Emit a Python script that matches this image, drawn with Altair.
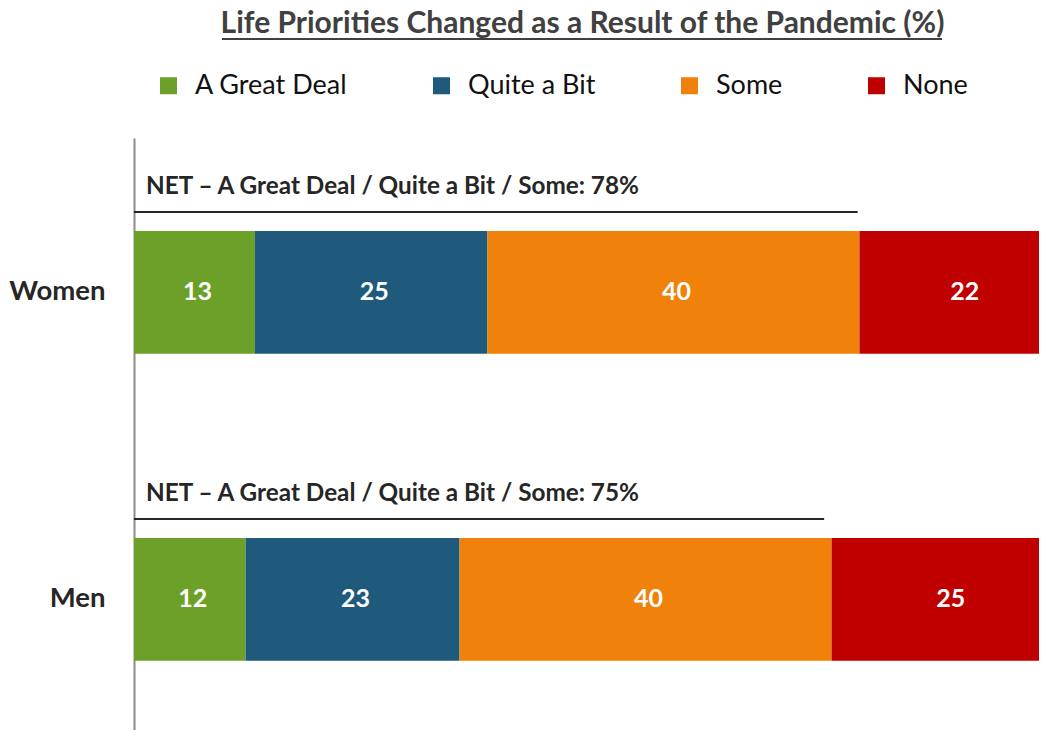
import altair as alt
import pandas as pd

groups = ["Women", "Men"]
categories = ["A Great Deal", "Quite a Bit", "Some", "None"]
women = [13, 25, 40, 22]
men = [12, 23, 40, 25]
net = [78, 75]
net_line_end = [77.8, 74.2]
colors = ["#6CA028", "#1F597B", "#F0810A", "#C00000"]
title_text = "Life Priorities Changed as a Result of the Pandemic (%)"

rows = []
for g, vals in zip(groups, [women, men]):
    cum = 0
    for i, (c, v) in enumerate(zip(categories, vals)):
        rows.append(dict(group=g, category=c, value=v, order=i,
                         start=cum, end=cum + v, mid=cum + v / 2))
        cum += v
df = pd.DataFrame(rows)

net_df = pd.DataFrame({
    "group": groups,
    "zero": [0, 0],
    "line_end": net_line_end,
    "label": [f"NET – A Great Deal / Quite a Bit / Some: {n}%" for n in net],
})

FONT = "Lato"

xscale = alt.Scale(domain=[0, 97.3], nice=False, zero=True)
yenc = dict(
    field="group", type="nominal", sort=groups,
    scale=alt.Scale(paddingInner=0.6, paddingOuter=0.264, align=0.573),
    axis=alt.Axis(title=None, ticks=False, grid=False,
                  domainColor="#8C8C8C", domainWidth=2,
                  labelFont=FONT, labelFontSize=27.5, labelFontWeight="bold",
                  labelColor="#262626", labelPadding=29),
)

base = alt.Chart(df)

bars = base.mark_bar(clip=True).encode(
    x=alt.X("start:Q", scale=xscale, axis=None),
    x2="end:Q",
    y=alt.Y(**yenc),
    color=alt.Color(
        "category:N",
        scale=alt.Scale(domain=categories, range=colors),
        legend=alt.Legend(
            title=None, orient="none", legendX=21, legendY=-66,
            direction="horizontal", symbolType="square", symbolSize=290,
            symbolStrokeWidth=0, labelFont=FONT, labelFontSize=27,
            labelColor="#111111", columnPadding=80, labelOffset=13,
        ),
    ),
    order=alt.Order("order:Q"),
)

bar_labels = base.mark_text(
    font=FONT, fontSize=25, fontWeight="bold", color="white",
    baseline="middle", align="center", dx=3,
).encode(
    x=alt.X("mid:Q", scale=xscale, axis=None),
    y=alt.Y(**yenc),
    text="value:Q",
)

net_rule = alt.Chart(net_df).mark_rule(
    strokeWidth=2, color="#262626", yOffset=-19
).encode(
    x=alt.X("zero:Q", scale=xscale, axis=None),
    x2="line_end:Q",
    y=alt.Y(bandPosition=0, **yenc),
)

net_text = alt.Chart(net_df).mark_text(
    font=FONT, fontSize=24.3, fontWeight="bold", color="#262626",
    align="left", baseline="alphabetic", dx=12, dy=-37,
).encode(
    x=alt.X("zero:Q", scale=xscale, axis=None),
    y=alt.Y(bandPosition=0, **yenc),
    text="label:N",
)

underline = alt.Chart(pd.DataFrame({"a": [0]})).mark_rule(
    strokeWidth=2, color="#404040"
).encode(x=alt.value(88), x2=alt.value(808), y=alt.value(-99))

chart = alt.layer(bars, bar_labels, net_rule, net_text, underline).properties(
    width=905,
    height=592,
    title=alt.TitleParams(
        title_text, font=FONT, fontSize=30, fontWeight="bold",
        color="#404040", anchor="middle", frame="group", dx=-4, dy=27,
        baseline="alphabetic", offset=2,
    ),
    autosize=alt.AutoSizeParams(type="none"),
    padding={"left": 126, "top": 130, "right": 0, "bottom": 0},
).configure_view(stroke=None)

chart.save("out.html", embed_options={"renderer": "svg", "actions": False})
